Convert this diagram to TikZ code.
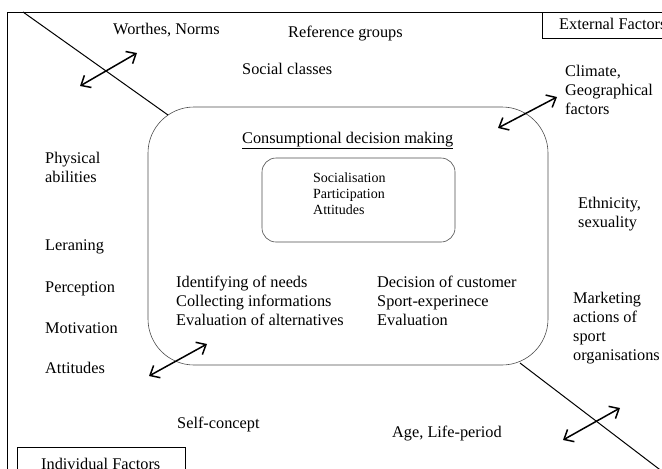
\documentclass[tikz,border=0pt]{standalone}
\usepackage{fontspec}
\setmainfont{Liberation Serif}
\usepackage{tikz}
\usetikzlibrary{arrows.meta,positioning}
\tikzstyle{factor} = [draw=none, fill=none, inner sep=0pt, anchor=base west, align=left, font=\fontsize{16.3}{18.7}\selectfont]
\tikzstyle{small} = [draw=none, fill=none, inner sep=0pt, anchor=base west, align=left, font=\fontsize{14}{16}\selectfont]
\tikzstyle{tag} = [draw, line width=0.8pt, inner sep=0pt, anchor=north west]
\tikzstyle{process} = [draw=black!70, line width=0.6pt, rectangle, inner sep=0pt]
\tikzstyle{frame} = [draw, line width=1pt]
\tikzstyle{twoway} = [draw, line width=1.5pt, {Straight Barb[length=8pt,width=14pt]}-{Straight Barb[length=8pt,width=14pt]}]

\begin{document}
\begin{tikzpicture}[x=1pt, y=-1pt]
\useasboundingbox (0,0) rectangle (662,469);

% frame ==================================
\coordinate (ftop) at (7,12);
\coordinate (fright) at (662,12);
\coordinate (fbottom) at (7,475);
\path[frame] (fright) -- (ftop) -- (fbottom);

% consumer box ===========================
\node[process, rounded corners=46pt, minimum width=400pt, minimum height=258pt] (decision) at (348,236) {};
\node[process, rounded corners=14pt, minimum width=193pt, minimum height=84pt] (inner) at (358.5,200) {};
\node[factor] (title) at (242,143) {\underline{Consumptional decision making}};
\node[small] (social) at (313,214) {Socialisation\\Participation\\Attitudes};
\node[factor] (steps) at (176,325) {Identifying of needs\\Collecting informations\\Evaluation of alternatives};
\node[factor] (customer) at (377,325) {Decision of customer\\Sport-experinece\\Evaluation};

% boxes with headings ====================
\node[tag, minimum width=130pt, minimum height=26pt] (extbox) at (542,12) {};
\node[factor] (ext) at (559,29) {External Factors};
\node[tag, minimum width=168pt, minimum height=30pt] (indbox) at (17,447) {};
\node[factor] (ind) at (41,469) {Individual Factors};

% external factors =======================
\node[factor] (norms) at (113,34) {Worthes, Norms};
\node[factor] (groups) at (288,37) {Reference groups};
\node[factor] (classes) at (242,74) {Social classes};
\node[factor] (climate) at (565,114) {Climate,\\Geographical\\factors};
\node[factor] (ethnic) at (578,227) {Ethnicity,\\sexuality};
\node[factor] (marketing) at (573,360) {Marketing\\actions of\\sport\\organisations};
\node[factor] (age) at (392,437) {Age, Life-period};

% individual factors =====================
\node[factor] (physical) at (45,182) {Physical\\abilities};
\node[factor] (learning) at (45,250) {Leraning};
\node[factor] (perception) at (45,292) {Perception};
\node[factor] (motivation) at (45,333) {Motivation};
\node[factor] (attitudes) at (45,373) {Attitudes};
\node[factor] (self) at (177,428) {Self-concept};

% dividing lines
\coordinate (cutA) at (23,12);
\coordinate (cornerA) at (168,115);
\coordinate (cornerB) at (520,363);
\coordinate (cutB) at (680,485);
\path[frame] (cutA) -- (cornerA);
\path[frame] (cornerB) -- (cutB);

% influences
\coordinate (a1) at (80,86);   \coordinate (b1) at (137,53);
\coordinate (a2) at (498,128); \coordinate (b2) at (557,97);
\coordinate (a3) at (149,376); \coordinate (b3) at (207,344);
\coordinate (a4) at (563,440); \coordinate (b4) at (620,408);
\path[twoway] (a1) -- (b1);
\path[twoway] (a2) -- (b2);
\path[twoway] (a3) -- (b3);
\path[twoway] (a4) -- (b4);

\end{tikzpicture}
\end{document}
